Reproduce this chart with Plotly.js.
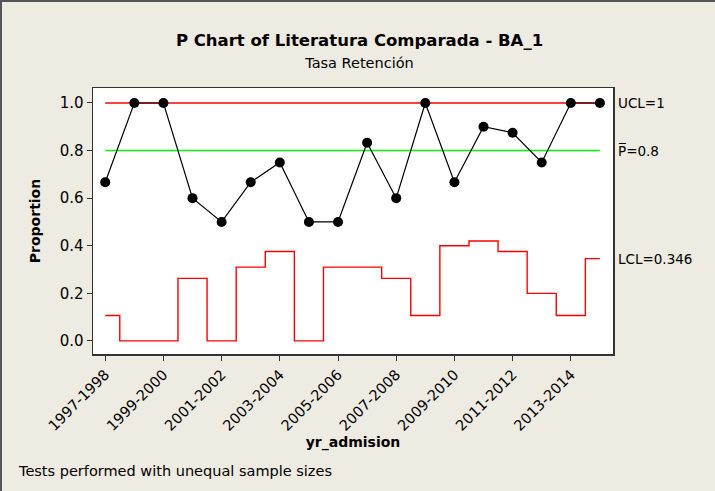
<!DOCTYPE html>
<html>
<head>
<meta charset="utf-8">
<script src="https://cdn.plot.ly/plotly-3.0.1.min.js"></script>
<style>
  html, body { margin: 0; padding: 0; background: #EEEBE2; }
  #chart { width: 715px; height: 491px; box-sizing: border-box; border-left: 2px solid #555; border-top: 2px solid #555; }
</style>
</head>
<body>
<div id="chart"></div>
<script>
// Categories (academic years)
const years = ["1997-1998","1998-1999","1999-2000","2000-2001","2001-2002","2002-2003",
  "2003-2004","2004-2005","2005-2006","2006-2007","2007-2008","2008-2009","2009-2010",
  "2010-2011","2011-2012","2012-2013","2013-2014","2014-2015"];
// Proportions
const proportion = [0.667,1.0,1.0,0.6,0.5,0.667,0.75,0.5,0.5,0.833,0.6,1.0,0.667,0.9,0.875,0.75,1.0,1.0];
// Lower control limit per subgroup
const lcl = [0.107,0,0,0.263,0,0.310,0.376,0,0.310,0.310,0.263,0.107,0.400,0.420,0.376,0.200,0.107,0.346];
const uclValue = 1.0;
const centerValue = 0.8;
const lclLastLabel = 0.346;
const tickLabels = ["1997-1998","1999-2000","2001-2002","2003-2004","2005-2006","2007-2008","2009-2010","2011-2012","2013-2014"];
const yTicks = [0.0,0.2,0.4,0.6,0.8,1.0];

const FONT = "DejaVu Sans, Verdana, sans-serif";
const first = years[0], last = years[years.length-1];

const traces = [
  { x: [first, last], y: [uclValue, uclValue], mode: "lines", line: {color: "#FF0000", width: 1.5}, hoverinfo: "skip" },
  { x: [first, last], y: [centerValue, centerValue], mode: "lines", line: {color: "#00FF00", width: 1.5}, hoverinfo: "skip" },
  { x: years, y: lcl, mode: "lines", line: {color: "#FF0000", width: 1.4, shape: "hvh"}, hoverinfo: "skip" },
  { x: years, y: proportion, mode: "lines+markers", line: {color: "#000000", width: 1.2},
    marker: {color: "#000000", size: 10} }
];

const layout = {
  width: 715, height: 491,
  paper_bgcolor: "#EEEBE2", plot_bgcolor: "#FFFFFF",
  margin: {l: 91, r: 104, t: 86, b: 139},
  showlegend: false,
  font: {family: FONT, color: "#000"},
  title: {
    text: "<b>P Chart of Literatura Comparada - BA_1</b><br><span style='font-size:14.5px'>Tasa Retención</span>",
    x: 0.5, xanchor: "center", y: 0.91, yanchor: "top",
    font: {family: FONT, size: 16.5, color: "#000"}
  },
  xaxis: {
    type: "category", categoryorder: "array", categoryarray: years,
    range: [-0.42, 17.45],
    tickmode: "array", tickvals: tickLabels, ticktext: tickLabels,
    tickangle: -45, ticks: "outside", ticklen: 5, tickcolor: "#333",
    tickfont: {family: FONT, size: 14.5},
    showgrid: false, zeroline: false,
    showline: true, mirror: true, linecolor: "#333", linewidth: 1.5,
    title: {text: "<b>yr_admision</b>", font: {family: FONT, size: 14}, standoff: 4}
  },
  yaxis: {
    range: [-0.055, 1.063],
    tickmode: "array", tickvals: yTicks, ticktext: yTicks.map(v => v.toFixed(1)),
    ticks: "outside", ticklen: 5, tickcolor: "#333",
    tickfont: {family: FONT, size: 15},
    showgrid: false, zeroline: false,
    showline: true, mirror: true, linecolor: "#333", linewidth: 1.5,
    title: {text: "<b>Proportion</b>", font: {family: FONT, size: 14}, standoff: 15}
  },
  annotations: [
    { xref: "paper", yref: "y", x: 1.006, y: uclValue, xanchor: "left", yanchor: "middle", showarrow: false,
      text: "UCL=" + uclValue, font: {family: FONT, size: 13.5} },
    { xref: "paper", yref: "y", x: 1.006, y: centerValue, xanchor: "left", yanchor: "middle", showarrow: false,
      text: "P\u0305=" + centerValue, font: {family: FONT, size: 13.5} },
    { xref: "paper", yref: "y", x: 1.006, y: lclLastLabel, xanchor: "left", yanchor: "middle", showarrow: false,
      text: "LCL=" + lclLastLabel, font: {family: FONT, size: 13.5} },
    { xref: "paper", yref: "paper", x: -0.148, y: -0.44, xanchor: "left", yanchor: "middle", showarrow: false,
      text: "Tests performed with unequal sample sizes", font: {family: FONT, size: 14.5} }
  ]
};

Plotly.newPlot("chart", traces, layout, {displayModeBar: false, staticPlot: true});
</script>
</body>
</html>
